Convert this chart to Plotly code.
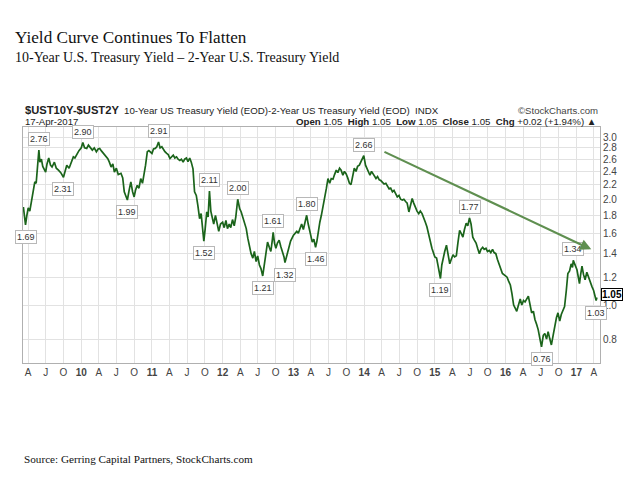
import math
import plotly.graph_objects as go

# ---- data ----
dates = [
    "2009-03-08","2009-03-13","2009-03-19","2009-03-26","2009-04-02","2009-04-10","2009-04-19","2009-04-27",
    "2009-05-06","2009-05-13","2009-05-21","2009-05-27","2009-06-01","2009-06-09","2009-06-16","2009-07-01",
    "2009-07-08","2009-07-17","2009-07-26","2009-08-03","2009-08-15","2009-08-25","2009-09-05","2009-09-17",
    "2009-10-01","2009-10-09","2009-10-18","2009-10-30","2009-11-09","2009-11-21","2009-11-29","2009-12-10",
    "2009-12-20",
    "2010-01-01","2010-01-09","2010-01-18","2010-01-29","2010-02-07","2010-02-17","2010-02-27","2010-03-09",
    "2010-03-20","2010-03-29","2010-04-06","2010-04-16","2010-04-26","2010-05-06","2010-05-18","2010-05-26",
    "2010-06-04","2010-06-13","2010-06-21","2010-07-01","2010-07-11","2010-07-25","2010-08-03","2010-08-11",
    "2010-08-19","2010-08-27","2010-09-05","2010-09-14","2010-09-23","2010-10-01","2010-10-08","2010-10-17",
    "2010-10-26","2010-11-04","2010-11-13","2010-11-21","2010-11-29","2010-12-08","2010-12-16",
    "2011-01-01","2011-01-09","2011-01-18","2011-01-26","2011-02-04","2011-02-12","2011-02-21","2011-03-01",
    "2011-03-09","2011-03-18","2011-03-26","2011-04-04","2011-04-12","2011-04-21","2011-04-29","2011-05-08",
    "2011-05-16","2011-05-25","2011-06-02","2011-06-11","2011-06-19","2011-06-28","2011-07-06","2011-07-15",
    "2011-07-23","2011-08-01","2011-08-09","2011-08-18","2011-08-26","2011-09-04","2011-09-12","2011-09-19",
    "2011-09-26","2011-10-03","2011-10-11","2011-10-18","2011-10-25","2011-11-01","2011-11-08","2011-11-16",
    "2011-11-25","2011-12-04","2011-12-12","2011-12-21",
    "2012-01-01","2012-01-09","2012-01-18","2012-01-26","2012-02-04","2012-02-12","2012-02-21","2012-03-01",
    "2012-03-09","2012-03-19","2012-03-29","2012-04-06","2012-04-15","2012-04-23","2012-05-02","2012-05-10",
    "2012-05-19","2012-05-27","2012-06-05","2012-06-13","2012-06-22","2012-06-30","2012-07-09","2012-07-17",
    "2012-07-26","2012-08-03","2012-08-12","2012-08-20","2012-08-29","2012-09-06","2012-09-13","2012-09-18",
    "2012-09-25","2012-10-02","2012-10-10","2012-10-19","2012-10-27","2012-11-05","2012-11-13","2012-11-18",
    "2012-11-27","2012-12-08","2012-12-17",
    "2013-01-01","2013-01-09","2013-01-18","2013-01-26","2013-02-04","2013-02-12","2013-02-21","2013-03-01",
    "2013-03-10","2013-03-18","2013-03-27","2013-04-03","2013-04-08","2013-04-16","2013-04-25","2013-05-02",
    "2013-05-08","2013-05-17","2013-05-25","2013-06-03","2013-06-11","2013-06-20","2013-06-28","2013-07-07",
    "2013-07-15","2013-07-24","2013-08-01","2013-08-10","2013-08-18","2013-08-27","2013-09-04","2013-09-13",
    "2013-09-21","2013-09-30","2013-10-08","2013-10-17","2013-10-25","2013-11-03","2013-11-11","2013-11-20",
    "2013-11-28","2013-12-07","2013-12-15","2013-12-22","2013-12-30",
    "2014-01-08","2014-01-16","2014-01-24","2014-01-31","2014-02-08","2014-02-15","2014-02-23","2014-03-03",
    "2014-03-11","2014-03-20","2014-03-28","2014-04-06","2014-04-14","2014-04-23","2014-05-01","2014-05-10",
    "2014-05-18","2014-05-27","2014-06-04","2014-06-13","2014-06-21","2014-06-30","2014-07-08","2014-07-17",
    "2014-07-25","2014-08-03","2014-08-11","2014-08-20","2014-08-28","2014-09-06","2014-09-14","2014-09-23",
    "2014-10-01","2014-10-10","2014-10-18","2014-10-27","2014-11-04","2014-11-13","2014-11-21","2014-11-30",
    "2014-12-08","2014-12-17",
    "2015-01-01","2015-01-10","2015-01-18","2015-01-24","2015-01-30","2015-02-06","2015-02-13","2015-02-21",
    "2015-03-02","2015-03-10","2015-03-19","2015-03-27","2015-04-05","2015-04-13","2015-04-22","2015-04-30",
    "2015-05-09","2015-05-17","2015-05-26","2015-06-03","2015-06-12","2015-06-20","2015-06-29","2015-07-07",
    "2015-07-16","2015-07-24","2015-08-02","2015-08-10","2015-08-19","2015-08-27","2015-09-05","2015-09-13",
    "2015-09-22","2015-09-30","2015-10-09","2015-10-17","2015-10-26","2015-11-03","2015-11-12","2015-11-20",
    "2015-11-29","2015-12-07","2015-12-16",
    "2016-01-01","2016-01-09","2016-01-17","2016-01-26","2016-02-03","2016-02-12","2016-02-20","2016-02-28",
    "2016-03-08","2016-03-17","2016-03-25","2016-04-03","2016-04-11","2016-04-20","2016-04-28","2016-05-07",
    "2016-05-15","2016-05-24","2016-06-01","2016-06-10","2016-06-18","2016-06-27","2016-07-05","2016-07-14",
    "2016-07-22","2016-07-31","2016-08-08","2016-08-17","2016-08-25","2016-09-03","2016-09-11","2016-09-20",
    "2016-09-28","2016-10-07","2016-10-15","2016-10-24","2016-11-01","2016-11-10","2016-11-18","2016-11-27",
    "2016-12-05","2016-12-12","2016-12-16",
    "2017-01-04","2017-01-10","2017-01-17","2017-01-23","2017-01-30","2017-02-07","2017-02-15","2017-02-24",
    "2017-03-04","2017-03-13","2017-03-22","2017-03-31","2017-04-08","2017-04-13","2017-04-17",
]
spread = [
    1.90,1.82,1.69,1.80,1.89,1.85,1.97,2.10,
    2.24,2.22,2.45,2.76,2.55,2.60,2.48,2.39,
    2.52,2.62,2.50,2.47,2.55,2.45,2.42,2.38,
    2.31,2.42,2.50,2.45,2.55,2.64,2.62,2.70,
    2.75,
    2.80,2.90,2.80,2.79,2.85,2.80,2.76,2.80,
    2.73,2.78,2.79,2.74,2.70,2.66,2.61,2.55,
    2.47,2.52,2.39,2.45,2.35,2.37,2.30,2.10,
    2.05,1.99,2.12,2.24,2.10,2.03,2.12,2.19,
    2.15,2.29,2.22,2.34,2.50,2.73,2.75,
    2.70,2.78,2.79,2.82,2.91,2.80,2.82,2.76,
    2.73,2.70,2.68,2.61,2.64,2.67,2.62,2.64,
    2.60,2.58,2.60,2.55,2.60,2.62,2.56,2.62,
    2.55,2.44,2.10,2.05,1.92,1.76,1.82,1.62,
    1.52,1.65,1.84,1.78,2.11,1.85,1.76,1.70,
    1.80,1.70,1.62,1.70,
    1.72,1.66,1.74,1.65,1.70,1.66,1.75,1.68,
    1.78,2.00,1.88,1.84,1.78,1.72,1.65,1.55,
    1.45,1.40,1.36,1.42,1.33,1.38,1.30,1.27,
    1.21,1.30,1.40,1.51,1.46,1.42,1.52,1.61,
    1.50,1.45,1.50,1.53,1.47,1.42,1.37,1.32,
    1.38,1.45,1.52,
    1.58,1.60,1.62,1.60,1.65,1.70,1.64,1.72,
    1.80,1.70,1.62,1.55,1.51,1.54,1.46,1.52,
    1.62,1.72,1.80,1.90,2.01,2.15,2.29,2.22,
    2.29,2.28,2.35,2.42,2.38,2.45,2.42,2.34,
    2.40,2.36,2.30,2.22,2.20,2.35,2.45,2.40,
    2.48,2.50,2.55,2.58,2.66,
    2.50,2.45,2.40,2.34,2.40,2.37,2.32,2.29,
    2.32,2.27,2.26,2.24,2.21,2.22,2.17,2.14,
    2.15,2.10,2.12,2.08,2.03,2.05,2.00,1.99,
    2.00,1.97,1.95,1.84,1.92,2.01,1.95,1.88,
    1.85,1.82,1.85,1.82,1.78,1.72,1.67,1.58,
    1.50,1.45,
    1.37,1.36,1.29,1.24,1.19,1.30,1.37,1.42,
    1.48,1.40,1.31,1.35,1.39,1.37,1.38,1.50,
    1.63,1.60,1.56,1.64,1.71,1.68,1.77,1.70,
    1.56,1.53,1.50,1.45,1.40,1.44,1.46,1.44,
    1.45,1.42,1.43,1.41,1.44,1.41,1.40,1.35,
    1.31,1.27,1.23,
    1.21,1.20,1.17,1.14,1.08,1.00,0.98,0.96,
    1.00,1.04,1.00,1.03,1.02,1.04,1.06,1.00,
    0.95,0.96,0.91,0.88,0.85,0.80,0.76,0.82,
    0.83,0.80,0.84,0.80,0.77,0.82,0.87,0.92,
    0.95,0.90,0.94,0.97,0.99,1.10,1.23,1.25,
    1.31,1.28,1.34,
    1.26,1.20,1.15,1.22,1.29,1.22,1.18,1.24,
    1.20,1.17,1.13,1.10,1.06,1.03,1.05,
]

# labelled highs / lows (date, value, above?)
label_dates = ["2009-03-19","2009-05-27","2009-10-01","2010-01-09","2010-08-27","2011-02-04",
               "2011-09-26","2011-10-25","2012-03-19","2012-07-26","2012-09-18","2012-11-18",
               "2013-03-10","2013-04-25","2013-12-30","2015-01-30","2015-06-29","2016-07-05",
               "2016-12-16","2017-04-13"]
label_values = [1.69,2.76,2.31,2.90,1.99,2.91,1.52,2.11,2.00,1.21,1.61,1.32,
                1.80,1.46,2.66,1.19,1.77,0.76,1.34,1.03]
label_above = [False,True,False,True,False,True,False,True,True,False,True,False,
               True,False,True,False,True,False,True,False]

trend_start = ("2014-04-08", 2.74)
trend_end = ("2017-03-19", 1.44)
last_value = 1.05

y_ticks = [0.8, 1.0, 1.2, 1.4, 1.6, 1.8, 2.0, 2.2, 2.4, 2.6, 2.8, 3.0]
x_tick_dates = []
x_tick_text = []
for yr in range(2009, 2018):
    for m, lab in [(1, None), (4, "A"), (7, "J"), (10, "O")]:
        d = f"{yr}-{m:02d}-01"
        if d < "2009-03-06" or d > "2017-05-03":
            continue
        x_tick_dates.append(d)
        x_tick_text.append(f"<b>{str(yr)[2:]}</b>" if lab is None else lab)

# ---- layout geometry (pixels) ----
W, H = 640, 480
L, R, T, B = 23, 600, 127, 363


def px(x):
    return (x - L) / (R - L)


def py(y):
    return (B - y) / (B - T)


fig = go.Figure()
fig.add_trace(go.Scatter(x=dates, y=spread, mode="lines",
                         line=dict(color="#1b641b", width=1.7),
                         hoverinfo="x+y", showlegend=False))

annotations = []
for d, v, up in zip(label_dates, label_values, label_above):
    annotations.append(dict(
        x=d, y=math.log10(v), xref="x", yref="y", text=f"{v:.2f}",
        showarrow=False, yshift=11 if up else -12,
        font=dict(family="Liberation Sans, Arial", size=9, color="#333"),
        bgcolor="white", bordercolor="#b8b8b8", borderwidth=1, borderpad=1,
    ))

# trend arrow
annotations.append(dict(
    x=trend_end[0], y=math.log10(trend_end[1]), xref="x", yref="y",
    ax=trend_start[0], ay=math.log10(trend_start[1]), axref="x", ayref="y",
    showarrow=True, arrowhead=2, arrowsize=1, arrowwidth=2.2,
    arrowcolor="#5f8f50", text="",
))

# last value box
annotations.append(dict(
    x=1.0, y=math.log10(last_value), xref="paper", yref="y", xanchor="left",
    xshift=1, yshift=3, text="<b>1.05</b>", showarrow=False,
    font=dict(family="Liberation Sans, Arial", size=10, color="black"),
    bgcolor="white", bordercolor="black", borderwidth=1, borderpad=0,
))

serif = "Liberation Serif, Times New Roman, serif"
sans = "Liberation Sans, Arial, sans-serif"

texts = [
    (13, 38, "Yield Curve Continues To Flatten", serif, 17.2, "#111", "left"),
    (13, 58, "10-Year U.S. Treasury Yield \u2013 2-Year U.S. Treasury Yield", serif, 14, "#111", "left"),
    (23, 110, "<b>$UST10Y-$UST2Y</b>", sans, 11.2, "#222", "left"),
    (122, 110, "10-Year US Treasury Yield (EOD)-2-Year US Treasury Yield (EOD)  INDX", sans, 9.7, "#222", "left"),
    (600, 110, "\u00a9StockCharts.com", sans, 9.6, "#444", "right"),
    (23, 121, "17-Apr-2017", sans, 9.6, "#222", "left"),
    (598, 121, "<b>Open</b> 1.05  <b>High</b> 1.05  <b>Low</b> 1.05  <b>Close</b> 1.05  <b>Chg</b> +0.02 (+1.94%) \u25b2",
     sans, 9.7, "#222", "right"),
    (22, 459, "Source: Gerring Capital Partners, StockCharts.com", serif, 11.2, "#111", "left"),
]
for x, y, t, fam, size, col, anchor in texts:
    annotations.append(dict(
        x=px(x), y=py(y), xref="paper", yref="paper", text=t, showarrow=False,
        xanchor=anchor, yanchor="middle", font=dict(family=fam, size=size, color=col),
    ))

fig.update_layout(
    width=W, height=H,
    margin=dict(l=L, r=W - R, t=T, b=H - B, pad=0),
    paper_bgcolor="white", plot_bgcolor="white",
    annotations=annotations,
    showlegend=False,
    xaxis=dict(
        type="date", range=["2009-03-06", "2017-05-03"],
        tickmode="array", tickvals=x_tick_dates, ticktext=x_tick_text,
        tickfont=dict(family=sans, size=10, color="#444"),
        showgrid=True, gridcolor="#e2e2e2", gridwidth=1,
        showline=True, linecolor="#b0b0b0", linewidth=1, mirror=True,
        ticks="", zeroline=False,
    ),
    yaxis=dict(
        type="log", range=[math.log10(0.684), math.log10(3.21)], side="right",
        tickmode="array", tickvals=y_ticks, ticktext=[f"{v:.1f}" for v in y_ticks],
        tickfont=dict(family=sans, size=10, color="#444"),
        showgrid=True, gridcolor="#e2e2e2", gridwidth=1,
        showline=True, linecolor="#b0b0b0", linewidth=1, mirror=True,
        ticks="", zeroline=False,
    ),
)

fig.write_html("out.html", config={"displayModeBar": False},
               post_script="document.body.style.margin='0';document.body.style.overflow='hidden';")
